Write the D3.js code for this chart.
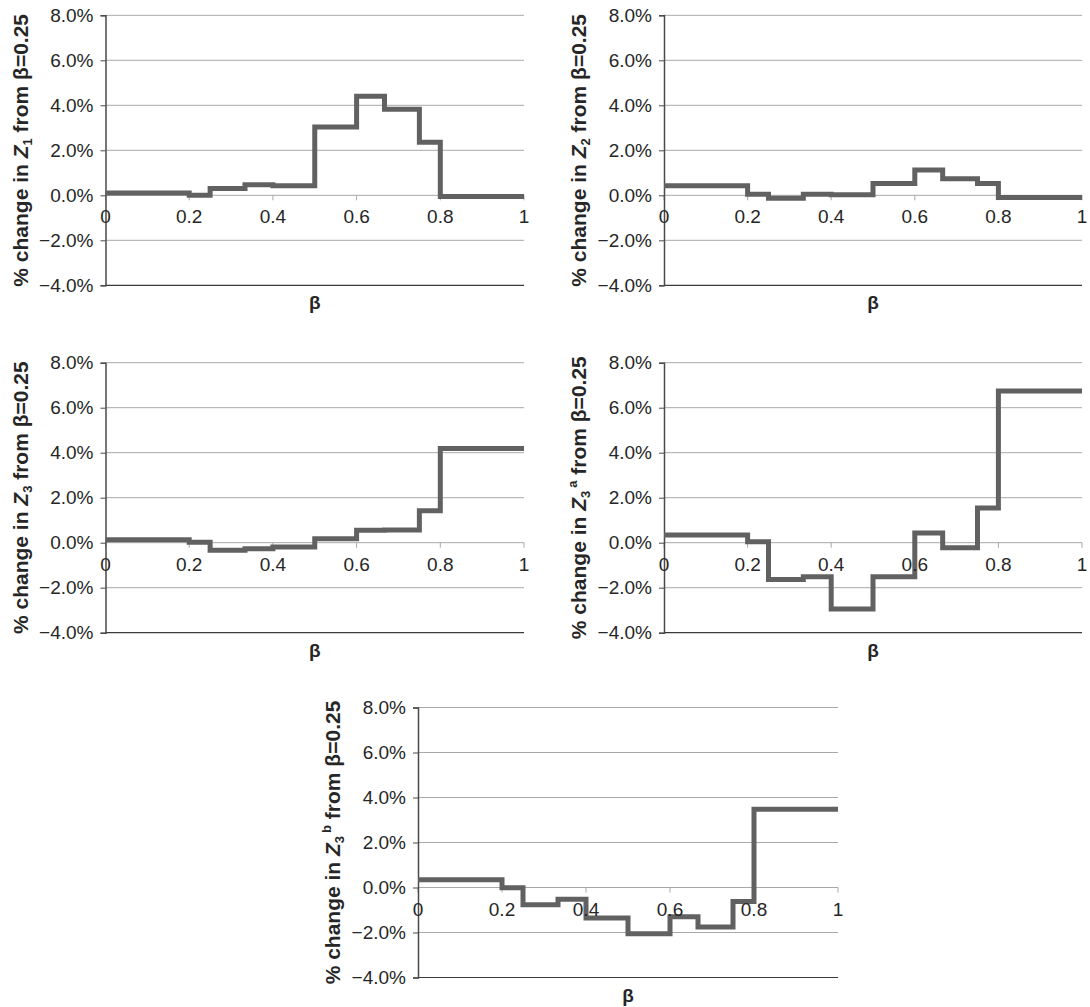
<!DOCTYPE html>
<html>
<head>
<meta charset="utf-8">
<script src="https://cdn.jsdelivr.net/npm/d3@7"></script>
<style>
  html, body { margin: 0; padding: 0; background: #fff; }
  svg { display: block; font-family: "Liberation Sans", Arial, Helvetica, sans-serif; }
</style>
</head>
<body>
<svg id="chart" width="1090" height="1007"></svg>
<script>
// ---- data ----
const betaBreaks = [0, 0.2, 0.25, 1/3, 0.4, 0.5, 0.6, 2/3, 0.75, 0.8, 1];
// % change values on each interval [betaBreaks[i], betaBreaks[i+1])
const z1  = [0.10, 0.00, 0.30, 0.47, 0.43, 3.04, 4.40, 3.82, 2.36, -0.05];
const z2  = [0.42, 0.05, -0.13, 0.05, 0.03, 0.52, 1.13, 0.74, 0.53, -0.10];
const z3  = [0.13, 0.02, -0.34, -0.27, -0.19, 0.18, 0.55, 0.56, 1.42, 4.19];
const z3a = [0.34, 0.04, -1.64, -1.51, -2.95, -1.51, 0.43, -0.22, 1.54, 6.74];
const z3b = [0.34, -0.01, -0.77, -0.52, -1.36, -2.06, -1.30, -1.76, -0.62, 3.48];
const yTicks = [-4, -2, 0, 2, 4, 6, 8];
const xTicks = [0, 0.2, 0.4, 0.6, 0.8, 1];
const xTickLabels = ["0", "0.2", "0.4", "0.6", "0.8", "1"];
const subs = ["1", "2", "3", "3", "3"];
const sups = ["", "", "", "a", "b"];
const seriesList = [z1, z2, z3, z3a, z3b];

// ---- layout ----
const panels = [
  {x0: 105.5, x1: 524,  yTop: 15.3,  yBot: 285.3},
  {x0: 664,   x1: 1082, yTop: 15.3,  yBot: 285.3},
  {x0: 105.5, x1: 524,  yTop: 362.7, yBot: 632.7},
  {x0: 664,   x1: 1082, yTop: 362.7, yBot: 632.7},
  {x0: 418,   x1: 838,  yTop: 707.5, yBot: 977.5}
];

const svg = d3.select("#chart");
const textColor = "#262626";
const gridColor = "#a8a8a8";

panels.forEach((p, i) => {
  const vals = seriesList[i];
  const x = d3.scaleLinear().domain([0, 1]).range([p.x0, p.x1]);
  const y = d3.scaleLinear().domain([-4, 8]).range([p.yBot, p.yTop]);
  const g = svg.append("g");

  // gridlines
  g.selectAll("line.grid").data(yTicks.filter(t => t !== -4)).enter().append("line")
    .attr("x1", p.x0).attr("x2", p.x1)
    .attr("y1", d => y(d)).attr("y2", d => y(d))
    .attr("stroke", gridColor).attr("stroke-width", 1);
  // bottom line
  g.append("line").attr("x1", p.x0).attr("x2", p.x1)
    .attr("y1", y(-4)).attr("y2", y(-4))
    .attr("stroke", "#3a3a3a").attr("stroke-width", 1.2);

  // x tick marks (below zero line)
  g.selectAll("line.xt").data(xTicks).enter().append("line")
    .attr("x1", d => x(d)).attr("x2", d => x(d))
    .attr("y1", y(0)).attr("y2", y(0) + 5)
    .attr("stroke", gridColor).attr("stroke-width", 1);

  // y axis
  const yAxis = d3.axisLeft(y).tickValues(yTicks).tickSize(5).tickPadding(7)
    .tickFormat(d => d3.format(".1f")(d) + "%");
  const ya = g.append("g").attr("transform", `translate(${p.x0},0)`).call(yAxis);
  ya.select(".domain").attr("stroke", "#4a4a4a").attr("stroke-width", 1.5);
  ya.selectAll(".tick line").attr("stroke", "#4a4a4a");
  ya.selectAll(".tick text").attr("fill", textColor)
    .style("font-size", "19px").style("font-family", '"Liberation Sans", Arial, sans-serif');

  // step line
  const pts = vals.map((v, k) => [betaBreaks[k], v]);
  pts.push([betaBreaks[betaBreaks.length - 1], vals[vals.length - 1]]);
  const line = d3.line().x(d => x(d[0])).y(d => y(d[1])).curve(d3.curveStepAfter);
  g.append("path").datum(pts).attr("d", line)
    .attr("fill", "none").attr("stroke", "#616161").attr("stroke-width", 5)
    .attr("stroke-linejoin", "miter").attr("stroke-linecap", "butt");

  // x tick labels (on top)
  g.selectAll("text.xl").data(xTicks).enter().append("text")
    .attr("x", d => x(d)).attr("y", y(0) + 28)
    .attr("text-anchor", "middle").attr("fill", textColor)
    .style("font-size", "19px")
    .text((d, k) => xTickLabels[k]);

  // x title
  g.append("text").attr("x", (p.x0 + p.x1) / 2).attr("y", p.yBot + 24)
    .attr("text-anchor", "middle").attr("fill", textColor)
    .style("font-size", "19px").style("font-weight", "bold").text("β");

  // y title
  const yt = g.append("text")
    .attr("transform", `translate(${p.x0 - 78},${(p.yTop + p.yBot) / 2}) rotate(-90)`)
    .attr("text-anchor", "middle").attr("fill", textColor)
    .style("font-size", "21px").style("font-weight", "bold");
  yt.append("tspan").text("% change in ");
  yt.append("tspan").style("font-style", "italic").text("Z");
  yt.append("tspan").attr("dy", 4).style("font-size", "13px").text(subs[i]);
  if (sups[i]) {
    yt.append("tspan").attr("dy", -13).attr("dx", 3).style("font-size", "13px").text(sups[i]);
    yt.append("tspan").attr("dy", 9).text(" from β=0.25");
  } else {
    yt.append("tspan").attr("dy", -4).text(" from β=0.25");
  }
});
</script>
</body>
</html>
